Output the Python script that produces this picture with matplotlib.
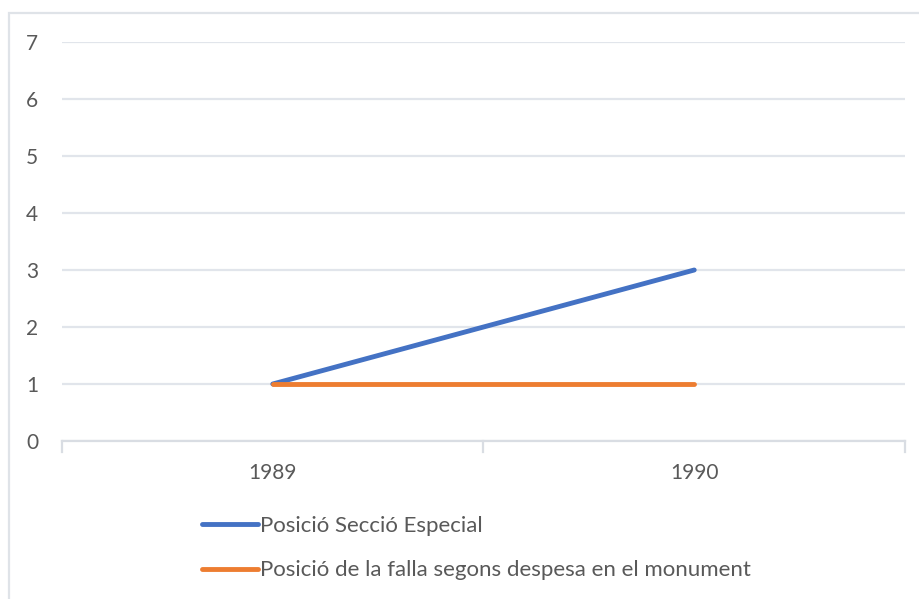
import matplotlib.pyplot as plt
from matplotlib.patches import Rectangle

# dades / data
anys = ['1989', '1990']
seccio_especial = [1, 3]
despesa_monument = [1, 1]
etiquetes = ['Posició Secció Especial', 'Posició de la falla segons despesa en el monument']

plt.rcParams['font.family'] = ['Lato', 'DejaVu Sans']

fig = plt.figure(figsize=(9.2, 5.99), dpi=100)
ax = fig.add_axes([62/920, 1 - 441/599, (905 - 62)/920, (441 - 42)/599])

x = range(len(anys))
l1, = ax.plot(x, seccio_especial, color='#4472C4', lw=3.5, solid_capstyle='round')
l2, = ax.plot(x, despesa_monument, color='#ED7D31', lw=3.5, solid_capstyle='round')

ax.set_xlim(-0.5, len(anys) - 0.5)
ax.set_ylim(0, 7)
ax.set_yticks(range(0, 8))
ax.set_xticks(list(x))
ax.set_xticklabels(anys)

# gridlines / axis
ax.grid(axis='y', color='#e1e5eb', lw=1.6)
ax.set_axisbelow(True)
for s in ['top', 'right', 'left']:
    ax.spines[s].set_visible(False)
ax.spines['bottom'].set_color('#d9dde3')
ax.spines['bottom'].set_linewidth(1.6)
ax.tick_params(axis='y', length=0, pad=17, labelsize=15, labelcolor='#595959')
ax.tick_params(axis='x', length=0, pad=16, labelsize=15, labelcolor='#595959')
# category separators
for b in [-0.5, 0.5, 1.5]:
    ax.plot([b, b], [0, -0.2], color='#d9dde3', lw=1.6, clip_on=False)

leg = fig.legend([l1, l2], etiquetes, loc='upper left', bbox_to_anchor=(182/920, 1 - 496/599),
                 frameon=False, fontsize=16, handlelength=2.5, handletextpad=0.12,
                 labelspacing=1.1, labelcolor='#595959')

# chart frame
fig.patches.append(Rectangle((9/920, -0.1), 1.2, 1.1 - 13/599, transform=fig.transFigure,
                             fill=False, edgecolor='#dfe3e8', lw=1.6))

fig.savefig('out.png', dpi=100)
